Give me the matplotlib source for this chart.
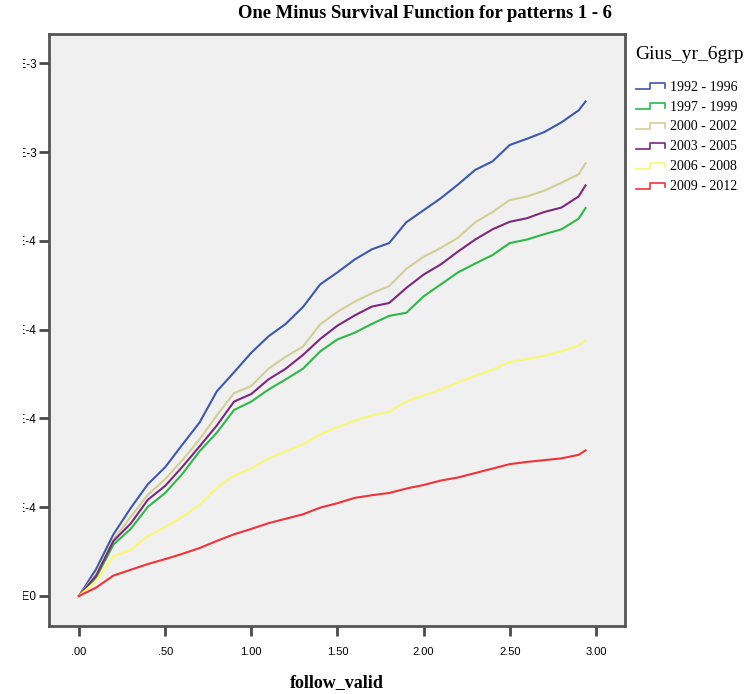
import matplotlib
matplotlib.use("Agg")
import matplotlib.pyplot as plt
from matplotlib.lines import Line2D
from matplotlib.legend_handler import HandlerLine2D
from matplotlib.transforms import Bbox, TransformedBbox

# cumulative incidence (one minus survival), read at every 0.1 of follow-up
follow = [0.0, 0.1, 0.2, 0.3, 0.4, 0.5, 0.6, 0.7, 0.8, 0.9, 1.0, 1.1, 1.2, 1.3, 1.4,
          1.5, 1.6, 1.7, 1.8, 1.9, 2.0, 2.1, 2.2, 2.3, 2.4, 2.5, 2.6, 2.7, 2.8, 2.9, 2.94]

grp_1992_1996 = [0.0, 0.61, 1.39, 1.98, 2.52, 2.90, 3.41, 3.91, 4.61, 5.04, 5.48, 5.85, 6.13, 6.51, 7.02,
                 7.29, 7.58, 7.81, 7.95, 8.42, 8.69, 8.96, 9.27, 9.60, 9.79, 10.16, 10.30, 10.45, 10.67, 10.94, 11.14]
grp_1997_1999 = [0.0, 0.42, 1.16, 1.51, 2.01, 2.32, 2.75, 3.26, 3.68, 4.19, 4.38, 4.65, 4.88, 5.12, 5.51,
                 5.78, 5.93, 6.13, 6.31, 6.38, 6.75, 7.02, 7.29, 7.49, 7.68, 7.95, 8.03, 8.15, 8.26, 8.50, 8.74]
grp_2000_2002 = [0.0, 0.50, 1.27, 1.78, 2.28, 2.63, 3.06, 3.53, 4.07, 4.57, 4.73, 5.12, 5.39, 5.62, 6.12,
                 6.40, 6.63, 6.82, 6.98, 7.37, 7.64, 7.84, 8.07, 8.42, 8.65, 8.92, 9.00, 9.13, 9.31, 9.50, 9.75]
grp_2003_2005 = [0.0, 0.46, 1.24, 1.63, 2.17, 2.48, 2.91, 3.37, 3.84, 4.38, 4.55, 4.88, 5.12, 5.43, 5.79,
                 6.09, 6.32, 6.52, 6.60, 6.94, 7.24, 7.47, 7.76, 8.03, 8.26, 8.43, 8.51, 8.65, 8.75, 9.00, 9.25]
grp_2006_2008 = [0.0, 0.34, 0.89, 1.04, 1.35, 1.55, 1.78, 2.05, 2.44, 2.71, 2.87, 3.10, 3.26, 3.41, 3.64,
                 3.80, 3.95, 4.07, 4.15, 4.38, 4.52, 4.65, 4.81, 4.96, 5.10, 5.27, 5.34, 5.41, 5.51, 5.64, 5.76]
grp_2009_2012 = [0.0, 0.19, 0.46, 0.59, 0.72, 0.83, 0.95, 1.08, 1.24, 1.39, 1.51, 1.64, 1.74, 1.84, 1.99,
                 2.09, 2.21, 2.27, 2.32, 2.42, 2.50, 2.60, 2.67, 2.77, 2.87, 2.97, 3.02, 3.06, 3.10, 3.18, 3.28]

group_labels = ["1992 - 1996", "1997 - 1999", "2000 - 2002", "2003 - 2005", "2006 - 2008", "2009 - 2012"]
group_colors = ["#3E58AC", "#2EB848", "#D3CE97", "#7C287D", "#FBF873", "#EF3338"]

x_ticks = [0.0, 0.5, 1.0, 1.5, 2.0, 2.5, 3.0]
x_ticklabels = [".00", ".50", "1.00", "1.50", "2.00", "2.50", "3.00"]
y_ticks = [0.0, 2e-4, 4e-4, 6e-4, 8e-4, 1.0e-3, 1.2e-3]
y_ticklabels = ["0.0E0", "2.0E-4", "4.0E-4", "6.0E-4", "8.0E-4", "1.0E-3", "1.2E-3"]


class StepHandler(HandlerLine2D):
    # little step glyph like the SPSS legend
    def create_artists(self, legend, orig_handle, xdescent, ydescent, width, height, fontsize, trans):
        x0 = -xdescent
        y0 = -ydescent
        xs = [x0, x0 + 0.5 * width, x0 + 0.5 * width, x0 + width, x0 + width]
        ys = [y0 + 0.15 * height, y0 + 0.15 * height, y0 + 0.75 * height, y0 + 0.75 * height, y0 + 0.3 * height]
        ln = Line2D(xs, ys, color=orig_handle.get_color(), lw=1.2)
        ln.set_transform(trans)
        return [ln]


W, H = 748, 694
fig = plt.figure(figsize=(W / 100, H / 100), dpi=100)
fig.patch.set_facecolor("white")
ax = fig.add_axes([49 / W, 1 - 626 / H, 576 / W, 592 / H])
ax.set_facecolor("#f0f0f0")

series = [grp_1992_1996, grp_1997_1999, grp_2000_2002, grp_2003_2005, grp_2006_2008, grp_2009_2012]
for vals, lab, col in zip(series, group_labels, group_colors):
    ax.plot(follow, [v * 1e-4 for v in vals], color=col, lw=1.5, label=lab)

ax.set_xlim(-0.174, 3.169)
ax.set_ylim(-0.676e-4, 12.66e-4)
ax.set_xticks(x_ticks)
ax.set_xticklabels(x_ticklabels, family="Liberation Sans", fontsize=8)
ax.set_yticks(y_ticks)
ax.set_yticklabels(y_ticklabels, family="Liberation Sans", fontsize=8.5)
ax.tick_params(axis="both", direction="out", length=7, width=2, color="#4a4a4a")
ax.tick_params(axis="x", pad=8)
ax.tick_params(axis="y", pad=2)
for sp in ax.spines.values():
    sp.set_linewidth(2)
    sp.set_color("#555555")

fig.text(425 / W, 1 - 14 / H, "One Minus Survival Function for patterns 1 - 6",
         ha="center", va="center", family="Liberation Serif", fontweight="bold", fontsize=13.4)
fig.text(337 / W, 1 - 683 / H, "follow_valid", ha="center", va="center",
         family="Liberation Serif", fontweight="bold", fontsize=13)

leg = ax.legend(loc="upper left", bbox_to_anchor=(630 / W, 1 - 40 / H), bbox_transform=fig.transFigure,
                frameon=False, title="Gius_yr_6grp", handler_map={Line2D: StepHandler()},
                prop={"family": "Liberation Serif", "size": 10}, handlelength=2.1, handletextpad=0.35,
                labelspacing=0.5, borderaxespad=0)
leg.get_title().set_fontfamily("Liberation Serif")
leg.get_title().set_fontsize(14)
leg._legend_box.align = "left"
leg._legend_box.sep = 13

# the left margin is narrow, so y labels are cut at the page edge
fig.canvas.draw()
clip = TransformedBbox(Bbox([[23 / W, 0], [0.5, 1]]), fig.transFigure)
for t in ax.get_yticklabels():
    t.set_clip_on(True)
    t.set_clip_box(clip)

fig.savefig("out.png", dpi=100)
